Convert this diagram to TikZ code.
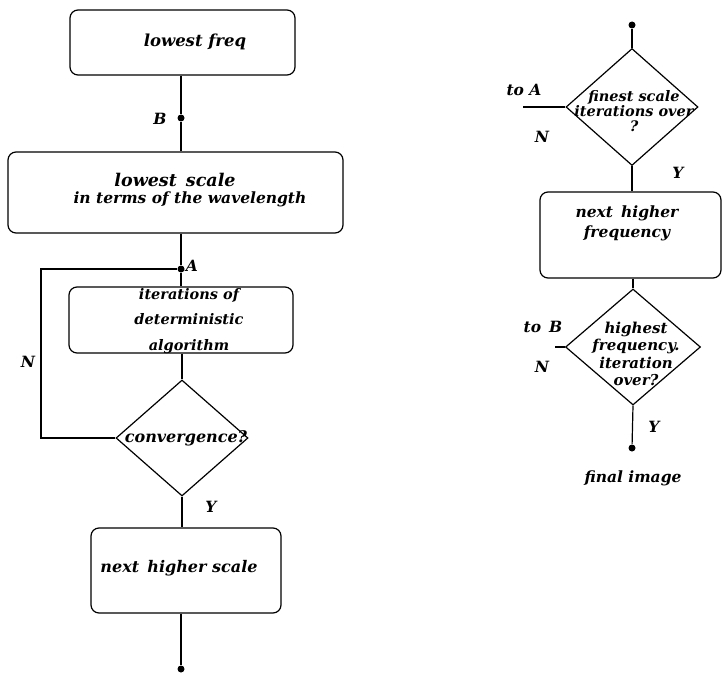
\documentclass[tikz,border=0pt]{standalone}
\usepackage{fontspec}
\setmainfont{DejaVu Serif}
\usetikzlibrary{shapes.geometric}
\tikzset{>=latex}
\tikzset{
  flowbox/.style={draw, rounded corners=8pt, inner sep=0pt, align=center},
  decision/.style={draw, diamond, inner sep=0pt},
  txt/.style={inner sep=0pt, align=center, font=\bfseries\itshape\fontsize{15.5}{18}\selectfont},
  dot/.style={circle, fill, inner sep=0pt, minimum size=7pt}
}

\begin{document}
\begin{tikzpicture}[x=1pt,y=-1pt,line width=1.2pt]
  \useasboundingbox (0,0) rectangle (723,674);
  % Left column
  \node[flowbox, minimum width=225pt, minimum height=65pt] (freq) at (182.5,42.5) {};
  \node[txt, font=\bfseries\itshape\fontsize{16.5}{18}\selectfont] (freqtxt) at (195,42) {lowest freq};
  \node[flowbox, minimum width=335pt, minimum height=81pt] (lscale) at (175.5,192.5) {};
  \node[txt, font=\bfseries\itshape\fontsize{17.5}{20}\selectfont] (lscaletxt) at (175,180) {lowest\, scale};
  \node[txt, font=\bfseries\itshape\fontsize{15.5}{16}\selectfont] (lscaletxt2) at (190,199) {in terms of the wavelength};
  \node[flowbox, minimum width=224pt, minimum height=66pt] (iter) at (181,320) {};
  \node[txt, font=\bfseries\itshape\fontsize{14.5}{25.5}\selectfont] (itertxt) at (189,321)
    {iterations of\\deterministic\\algorithm};
  \node[decision, minimum width=132pt, minimum height=116pt] (conv) at (182,438) {};
  \node[txt, font=\bfseries\itshape\fontsize{16}{18}\selectfont] (convtxt) at (186,438) {convergence?};
  \node[flowbox, minimum width=190pt, minimum height=85pt] (nscale) at (186,570.5) {};
  \node[txt, font=\bfseries\itshape\fontsize{16}{18}\selectfont] (nscaletxt) at (179,568) {next\, higher scale};
  \node[dot] (B) at (181,118) {};
  \node[dot] (A) at (181,269) {};
  \node[dot] (endl) at (181,669) {};
  \coordinate (loopl) at (41,269);
  % Lines
  \draw (freq.south -| B) -- (B) -- (lscale.north -| B);
  \draw (lscale.south -| A) -- (A) -- (iter.north -| A);
  \draw (iter.south -| conv) -- (conv.north);
  \draw (conv.west) -- (conv.west -| loopl) -- (loopl) -- (A);
  \draw (conv.south) -- (nscale.north -| conv);
  \draw (nscale.south -| endl) -- (endl);
  \node[txt] (Blab) at (160,119) {B};
  \node[txt] (Alab) at (192,266) {A};
  \node[txt] (Nl) at (28,362) {N};
  \node[txt] (Yl) at (211,507) {Y};

  % Right column
  \node[dot] (start) at (632,25) {};
  \node[decision, minimum width=132pt, minimum height=117pt] (fin) at (632,107) {};
  \node[txt, font=\bfseries\itshape\fontsize{14.5}{15}\selectfont] (fintxt) at (634,111)
    {finest scale\\iterations over\\?};
  \node[flowbox, minimum width=181pt, minimum height=86pt] (nfreq) at (630.5,235) {};
  \node[txt, font=\bfseries\itshape\fontsize{15.5}{20}\selectfont] (nfreqtxt) at (627,223) {next\, higher\\frequency};
  \node[decision, minimum width=135pt, minimum height=116pt] (high) at (633,347) {};
  \node[txt, font=\bfseries\itshape\fontsize{15}{17.5}\selectfont] (hightxt) at (636,354)
    {highest\\frequency.\\iteration\\over?};
  \node[dot] (final) at (632,448) {};
  \coordinate (toA) at (523,107);
  \coordinate (toB) at (555,347);
  \draw (start) -- (fin.north);
  \draw (fin.south) -- (nfreq.north -| fin);
  \draw (nfreq.south -| high) -- (high.north);
  \draw (high.south) -- (final);
  \draw (fin.west) -- (toA);
  \draw (high.west) -- (toB);
  \node[txt] (toAlab) at (524,90) {to A};
  \node[txt] (N1) at (542,137) {N};
  \node[txt] (Y1) at (678,173) {Y};
  \node[txt] (toBlab) at (543,327) {to\, B};
  \node[txt] (N2) at (542,367) {N};
  \node[txt] (Y2) at (654,427) {Y};
  \node[txt] (finallab) at (633,478) {final image};
\end{tikzpicture}
\end{document}
